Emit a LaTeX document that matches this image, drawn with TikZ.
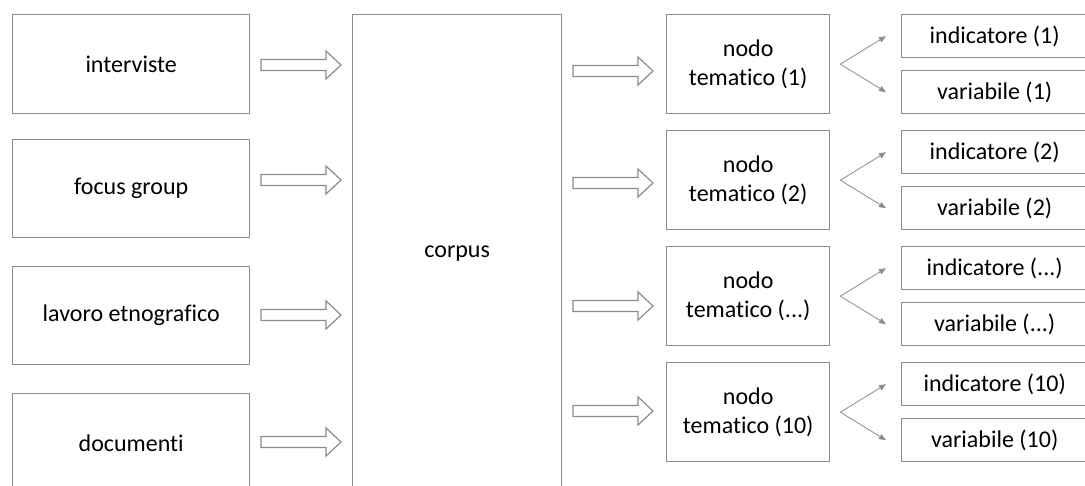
\documentclass[tikz,border=0pt]{standalone}
\usepackage{fontspec}
\setmainfont{Carlito}[Ligatures=NoCommon]
\usetikzlibrary{arrows.meta}
\definecolor{linegray}{HTML}{8C8C8C}
\tikzset{
  box/.style={draw=linegray, line width=1.4pt, fill=white, rectangle, inner sep=0pt, anchor=north west, align=center, font=\fontsize{24}{29}\selectfont},
  bigbox/.style={box, minimum width=237pt},
  ntbox/.style={box, minimum width=163pt, minimum height=99pt},
  smallbox/.style={box, minimum width=186pt, minimum height=43pt},
  fatarrow/.style={draw=linegray, line width=1.2pt, fill=white, line join=miter},
  thinarrow/.style={draw=linegray, line width=0.8pt, -{Triangle[length=7pt,width=5.5pt]}}
}
\newcommand\fatarr[2]{%
  \path[fatarrow] (#1,#2-5.5) -- (#1+65,#2-5.5) -- (#1+65,#2-14) -- (#1+80,#2) -- (#1+65,#2+14) -- (#1+65,#2+5.5) -- (#1,#2+5.5) -- cycle;}
\begin{document}
\begin{tikzpicture}[x=1pt,y=-1pt]
\useasboundingbox (0,0) rectangle (1085,486);
\clip (0,0) rectangle (1085,486);
\fill[white] (0,0) rectangle (1085,486);
% left sources
\node[bigbox, minimum height=99pt] (int) at (12,14) {interviste};
\node[bigbox, minimum height=98pt] (foc) at (12,139) {focus group};
\node[bigbox, minimum height=98pt] (lav) at (12,266) {lavoro etnografico};
\node[bigbox, minimum height=100pt] (doc) at (12,393) {documenti};
% corpus
\node[box, minimum width=209pt, minimum height=478pt] (corpus) at (352,14) {corpus};
% thematic nodes
\node[ntbox] (nt1) at (666,14) {nodo\\tematico (1)};
\node[ntbox] (nt2) at (666,130) {nodo\\tematico (2)};
\node[ntbox] (nt3) at (666,246) {nodo\\tematico (...)};
\node[ntbox] (nt4) at (666,362) {nodo\\tematico (10)};
% indicators / variables
\node[smallbox] (ind1) at (901,14) {indicatore (1)};
\node[smallbox] (var1) at (901,70) {variabile (1)};
\node[smallbox] (ind2) at (901,130) {indicatore (2)};
\node[smallbox] (var2) at (901,186) {variabile (2)};
\node[smallbox] (ind3) at (901,246) {indicatore (...)};
\node[smallbox] (var3) at (901,302) {variabile (...)};
\node[smallbox] (ind4) at (901,362) {indicatore (10)};
\node[smallbox] (var4) at (901,418) {variabile (10)};
% block arrows
\fatarr{261}{65}
\fatarr{261}{180}
\fatarr{261}{315}
\fatarr{261}{442}
\fatarr{573}{71}
\fatarr{573}{183}
\fatarr{573}{306}
\fatarr{573}{411}
% branching arrows
\foreach \i in {1,2,3,4}{
  \coordinate (tip\i) at ([xshift=10pt]nt\i.east);
  \draw[thinarrow] (tip\i) -- ([xshift=-15pt]ind\i.west);
  \draw[thinarrow] (tip\i) -- ([xshift=-15pt]var\i.west);
}
\end{tikzpicture}
\end{document}
